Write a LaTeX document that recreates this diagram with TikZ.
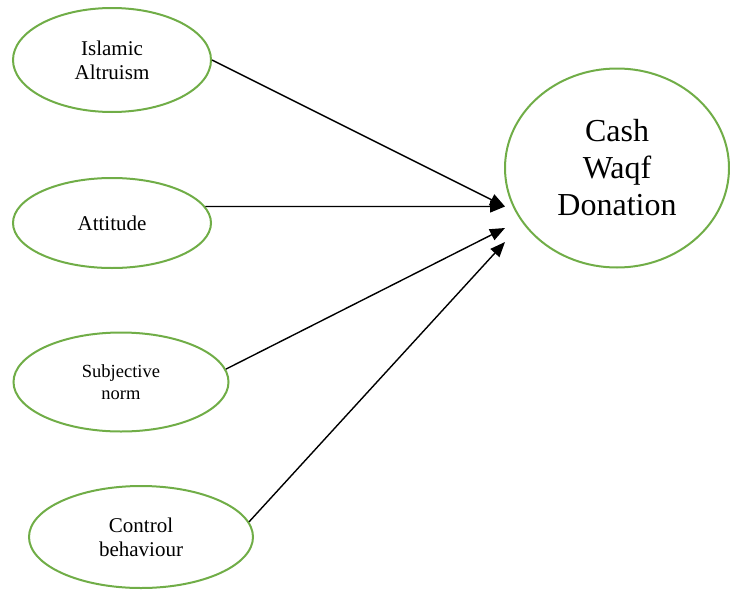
\documentclass[tikz,border=0pt]{standalone}
\usepackage{fontspec}
\setmainfont{Liberation Serif}
\usetikzlibrary{shapes.geometric,arrows.meta}
\definecolor{waqfgreen}{RGB}{112,173,71}

\begin{document}
\begin{tikzpicture}[x=1pt,y=-1pt,>={Triangle[length=15pt,width=12pt]}]
    \tikzstyle{factor}=[ellipse,draw=waqfgreen,line width=2pt,inner sep=0pt,align=center,font=\fontsize{21}{24}\selectfont]
    \tikzstyle{path}=[->,line width=1.4pt,black]
    \useasboundingbox (0,0) rectangle (730,589);

    \node[factor,minimum width=198pt,minimum height=104pt] (IA) at (112,60) {Islamic\\Altruism};
    \node[factor,minimum width=198pt,minimum height=90pt] (AT) at (112,223) {Attitude};
    \node[factor,minimum width=215pt,minimum height=99pt,font=\fontsize{18.5}{22}\selectfont] (SN) at (121,382) {Subjective\\norm};
    \node[factor,minimum width=224pt,minimum height=102pt] (CB) at (141,537) {Control\\behaviour};
    \node[factor,minimum width=224pt,minimum height=199pt,font=\fontsize{32}{37}\selectfont] (CWD) at (617,168) {Cash\\Waqf\\Donation};

    \coordinate (T-1) at (505,206.5);
    \coordinate (T-3) at (505,228);
    \coordinate (T-4) at (505,242);

        \foreach \from/\to in {IA.east/T-1, AT.10/T-1, SN.7/T-3, CB.8/T-4}
            \draw[path] (\from) -- (\to);
\end{tikzpicture}
\end{document}
